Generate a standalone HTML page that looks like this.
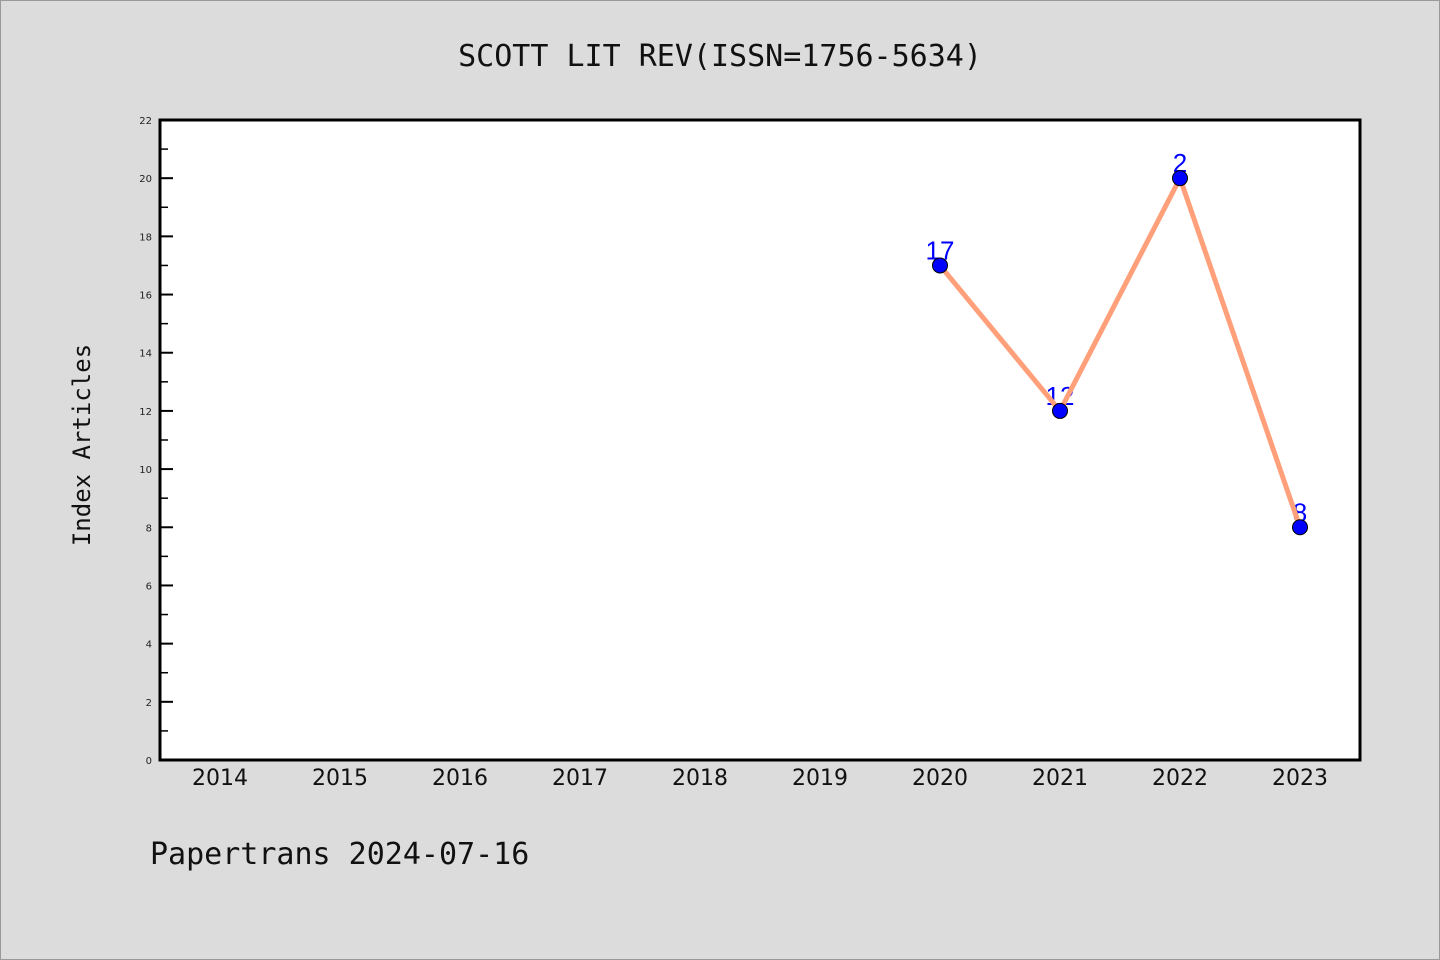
<!DOCTYPE html>
<html><head><meta charset="utf-8"><style>
body{margin:0;background:#dcdcdc;}
svg{display:block;font-family:"Liberation Mono","DejaVu Sans Mono",monospace;}
</style></head><body>
<svg id="chart" width="1440" height="960">
<rect x="0.5" y="0.5" width="1439" height="959" fill="#dcdcdc" stroke="#999"/>
<text x="720" y="66" text-anchor="middle" font-size="30" fill="#111" font-family="DejaVu Sans Mono, monospace">SCOTT LIT REV(ISSN=1756-5634)</text>
<rect x="160" y="120" width="1200" height="640" fill="#fff"/>
<g id="yaxis"></g>
<g id="xaxis"></g>
<g id="series"></g>
<rect x="160" y="120" width="1200" height="640" fill="none" stroke="#000" stroke-width="3"/>
<text transform="translate(90,445) rotate(-90)" text-anchor="middle" font-size="24" fill="#111" font-family="DejaVu Sans Mono, monospace">Index Articles</text>
<text x="150" y="864" font-size="30" fill="#111" font-family="DejaVu Sans Mono, monospace">Papertrans 2024-07-16</text>
</svg>
<script>
const years=[2014,2015,2016,2017,2018,2019,2020,2021,2022,2023];
const dataYears=[2020,2021,2022,2023];
const values=[17,12,20,8];
const valueLabels=["17","12","2","8"];
const yTicks=[0,2,4,6,8,10,12,14,16,18,20,22];
const NS="http://www.w3.org/2000/svg";
const L=160,R=1360,T=120,B=760,yMax=22;
const xs=y=>L+(y-2013.5)/10*(R-L);
const ys=v=>B-v/yMax*(B-T);
function mk(p,tag,a){const e=document.createElementNS(NS,tag);for(const k in a)e.setAttribute(k,a[k]);p.appendChild(e);return e;}
const ya=document.getElementById('yaxis'),xa=document.getElementById('xaxis'),se=document.getElementById('series');
yTicks.forEach(v=>{
 const t=mk(ya,'line',{x1:L,x2:L+13,y1:ys(v),y2:ys(v),stroke:'#000','stroke-width':2});
 
 
 const tx=mk(ya,'text',{x:152,y:ys(v)+4,'text-anchor':'end','font-size':10,fill:'#222','font-family':'DejaVu Sans, sans-serif'});
 tx.textContent=v;
 
 
 if(v<yMax){const m=mk(ya,'line',{x1:L,x2:L+8,y1:ys(v+1),y2:ys(v+1),stroke:'#000','stroke-width':1.5});
 
 }
});
years.forEach(y=>{
 const tx=mk(xa,'text',{x:xs(y),y:785,'text-anchor':'middle','font-size':22,fill:'#111','font-family':'DejaVu Sans, sans-serif'});
 tx.textContent=y;
 
 
});
dataYears.forEach((y,i)=>{
 const tx=mk(se,'text',{x:xs(y),y:ys(values[i])-6,'text-anchor':'middle','font-size':26,fill:'#0000ff','font-family':'Liberation Sans, sans-serif'});
 tx.textContent=valueLabels[i];
 
 
});
const pl=mk(se,'polyline',{points:dataYears.map((y,i)=>xs(y)+','+ys(values[i])).join(' '),fill:'none',stroke:'#ffa07a','stroke-width':5});


dataYears.forEach((y,i)=>{
 const c=mk(se,'circle',{cx:xs(y),cy:ys(values[i]),r:7.5,fill:'#0000ff',stroke:'#000','stroke-width':1});
 
 
});
</script>
</body></html>
